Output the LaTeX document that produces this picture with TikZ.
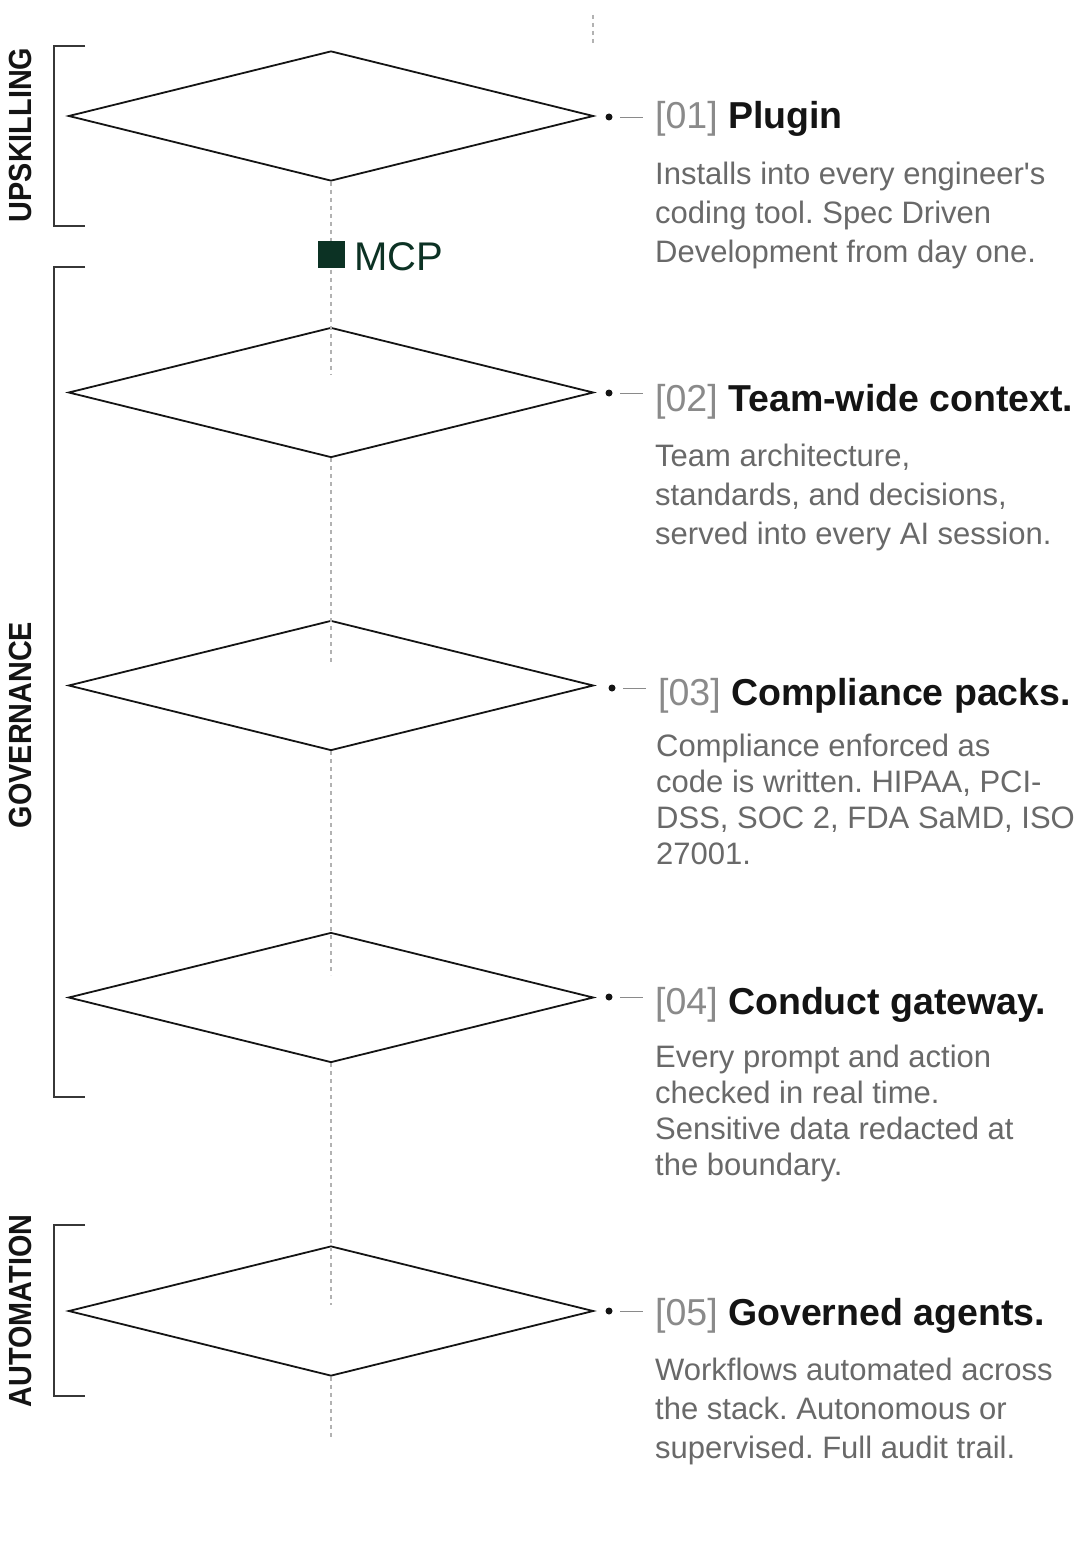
\documentclass[tikz,border=0pt]{standalone}
\usepackage{fontspec}
\setmainfont{Liberation Sans}
\usetikzlibrary{shapes.geometric}
\definecolor{stgK}{RGB}{20,20,20}
\definecolor{stgT}{RGB}{105,105,105}
\definecolor{stgN}{RGB}{138,138,138}
\definecolor{stgL}{RGB}{178,178,178}
\definecolor{stgM}{RGB}{12,50,36}
\definecolor{stgB}{RGB}{55,55,55}
\frenchspacing

\begin{document}
\begin{tikzpicture}[x=1pt,y=-1pt,
  stage/.style={diamond,draw=stgK,line width=1.8pt,minimum width=525pt,minimum height=130pt,inner sep=0pt},
  guide/.style={draw=stgL,line width=1.1pt,dash pattern=on 4pt off 4pt},
  pin/.style={circle,fill=stgK,inner sep=0pt,minimum size=7pt},
  lead/.style={draw=stgN,line width=0.9pt,shorten <=7.5pt,shorten >=12pt},
  ttl/.style={anchor=base west,inner sep=0pt,font=\fontsize{37.5}{40}\selectfont},
  txt/.style={anchor=base west,inner sep=0pt,align=left,text=stgT},
  brk/.style={draw=stgB,line width=1.3pt},
  tag/.style={rotate=90,xscale=0.9,inner sep=0pt,font=\fontsize{32}{32}\selectfont\bfseries,text=stgK}]
\useasboundingbox[fill=white] (0,0) rectangle (1083,1557);
\coordinate (g0) at (593,15); \draw[guide] (g0) -- ++(0,30);
\node[stage] (d1) at (331,116) {}; \node[stage] (d2) at (331,392.5) {}; \node[stage] (d3) at (331,685.5) {};
\node[stage] (d4) at (331,997.5) {}; \node[stage] (d5) at (331,1311) {};
\draw[guide] (d1.south) -- ++(0,193); \draw[guide] (d2.south) -- ++(0,207); \draw[guide] (d3.south) -- ++(0,224);
\draw[guide] (d4.south) -- ++(0,242); \draw[guide] (d5.south) -- ++(0,60);
\node[fill=stgM,minimum size=27pt,inner sep=0pt] (sq) at (331.5,254.5) {};
\node[anchor=base west,inner sep=0pt,text=stgM,font=\fontsize{40}{40}\selectfont] (mcp) at (354,270) {MCP};
\draw[brk] (85,46) -- (54,46) -- (54,226) -- (85,226);
\draw[brk] (85,267) -- (54,267) -- (54,1097) -- (85,1097);
\draw[brk] (85,1225) -- (54,1225) -- (54,1396) -- (85,1396);
\node[tag] (up) at (20,135) {UPSKILLING}; \node[tag] (gov) at (20,725) {GOVERNANCE}; \node[tag] (aut) at (20,1311) {AUTOMATION};
\node[pin] (p1) at (609,117) {}; \node[ttl] (t1) at (655,129) {\textcolor{stgN}{[01]} \textcolor{stgK}{\bfseries Plugin}};
\draw[lead] (p1) -- (p1 -| t1.west);
\node[txt,font=\fontsize{31}{39}\selectfont] (b1) at (655,262) {Installs into every engineer\textquotesingle s\\coding tool. Spec Driven\\Development from day one.};
\node[pin] (p2) at (609,393) {}; \node[ttl] (t2) at (655,411) {\textcolor{stgN}{[02]} \textcolor{stgK}{\bfseries Team-wide context.}};
\draw[lead] (p2) -- (p2 -| t2.west);
\node[txt,font=\fontsize{31}{39}\selectfont] (b2) at (655,544) {Team architecture,\\standards, and decisions,\\served into every AI session.};
\node[pin] (p3) at (612,688) {}; \node[ttl] (t3) at (658,705) {\textcolor{stgN}{[03]} \textcolor{stgK}{\bfseries Compliance packs.}};
\draw[lead] (p3) -- (p3 -| t3.west);
\node[txt,font=\fontsize{31}{36}\selectfont] (b3) at (656,864) {Compliance enforced as\\code is written. HIPAA, PCI-\\DSS, SOC 2, FDA SaMD, ISO\\27001.};
\node[pin] (p4) at (609,997) {}; \node[ttl] (t4) at (655,1014) {\textcolor{stgN}{[04]} \textcolor{stgK}{\bfseries Conduct gateway.}};
\draw[lead] (p4) -- (p4 -| t4.west);
\node[txt,font=\fontsize{31}{36}\selectfont] (b4) at (655,1175) {Every prompt and action\\checked in real time.\\Sensitive data redacted at\\the boundary.};
\node[pin] (p5) at (609,1311) {}; \node[ttl] (t5) at (655,1325) {\textcolor{stgN}{[05]} \textcolor{stgK}{\bfseries Governed agents.}};
\draw[lead] (p5) -- (p5 -| t5.west);
\node[txt,font=\fontsize{31}{39}\selectfont] (b5) at (655,1458) {Workflows automated across\\the stack. Autonomous or\\supervised. Full audit trail.};
\end{tikzpicture}
\end{document}
